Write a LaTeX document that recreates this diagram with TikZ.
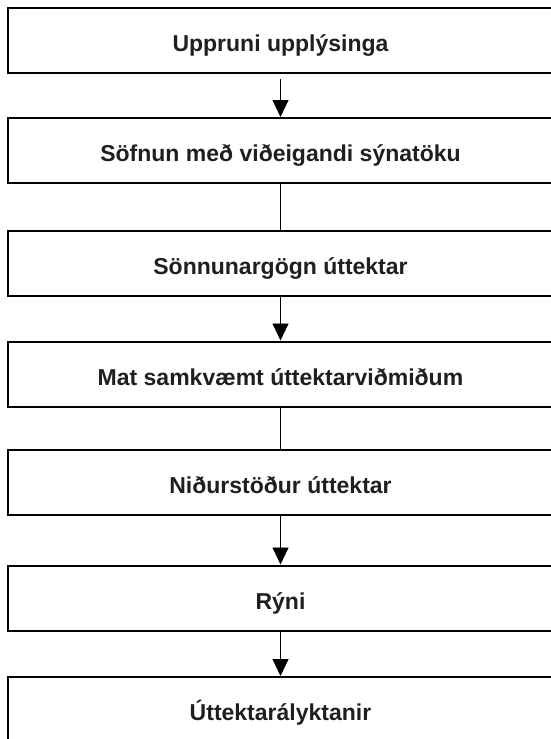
\documentclass[tikz,border=0pt]{standalone}
\usepackage{fontspec}
\setmainfont{Liberation Sans}
\usetikzlibrary{arrows.meta}

\begin{document}
\begin{tikzpicture}[x=1pt, y=-1pt,
  stepbox/.style={rectangle, draw=black, line width=2pt, minimum width=545pt, minimum height=65pt, inner sep=0pt, text=black!88, font=\bfseries\fontsize{23}{27}\selectfont, text height=22pt, text depth=0pt},
  flow/.style={line width=0.9pt, -{Triangle[width=16pt,length=17pt]}},
  link/.style={line width=0.9pt}]
\useasboundingbox (0,0) rectangle (551,739);
\clip (0,0) rectangle (551,739);
\node[stepbox] (1) at (280.5,40.5) {Uppruni upplýsinga};
\node[stepbox] (2) at (280.5,150.5) {Söfnun með viðeigandi sýnatöku};
\node[stepbox] (3) at (280.5,263.5) {Sönnunargögn úttektar};
\node[stepbox] (4) at (280.5,374) {Mat samkvæmt úttektarviðmiðum};
\node[stepbox] (5) at (280.5,482.5) {Niðurstöður úttektar};
\node[stepbox] (6) at (280.5,598) {Rýni};
\node[stepbox] (7) at (280.5,709.5) {Úttektarályktanir};

\draw[flow, shorten <=5pt] (1) -- (2);
\draw[link] (2) -- (3);
\draw[flow] (3) -- (4);
\draw[link] (4) -- (5);
\draw[flow] (5) -- (6);
\draw[flow] (6) -- (7);
\end{tikzpicture}
\end{document}
